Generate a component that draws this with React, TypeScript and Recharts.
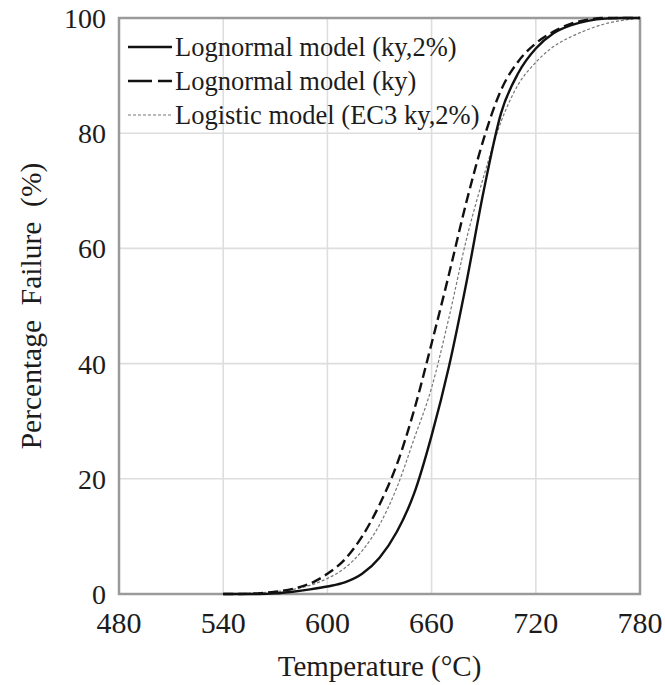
import React from 'react';
import { LineChart, Line, XAxis, YAxis, CartesianGrid, Legend, ReferenceArea } from 'recharts';

const temperatures = [540, 550, 560, 570, 580, 590, 600, 610, 620, 630, 640, 650, 660, 670, 680, 690, 700, 710, 720, 730, 740, 750, 760, 770, 780];
const lognormalKy2 = [0, 0, 0, 0.1, 0.4, 0.8, 1.3, 2, 3.5, 6.3, 10.8, 17.5, 27.5, 39.5, 54, 70, 83.5, 90.5, 94.7, 97.3, 98.7, 99.5, 99.9, 100, 100];
const lognormalKy = [0, 0, 0.1, 0.4, 0.9, 1.8, 3.5, 6, 10, 15.5, 22.5, 32, 43.5, 55.5, 68, 79, 87.5, 92.5, 95.6, 97.6, 99, 99.7, 100, 100, 100];
const logisticEC3 = [0.05, 0.1, 0.2, 0.4, 0.8, 1.5, 2.7, 4.5, 7.5, 12, 18.5, 27, 35.8, 48, 61.5, 72.5, 82, 88.5, 92.3, 95, 96.7, 98, 99, 99.6, 100];

const xTicks = [480, 540, 600, 660, 720, 780];
const yTicks = [0, 20, 40, 60, 80, 100];
const seriesNames = ['Lognormal model (ky,2%)', 'Lognormal model (ky)', 'Logistic model (EC3 ky,2%)'];
const xTitle = 'Temperature (\u00B0C)';
const yTitle = 'Percentage  Failure  (%)';

const data = temperatures.map((t, i) => ({
  t,
  a: lognormalKy2[i],
  b: lognormalKy[i],
  c: logisticEC3[i],
}));

const FONT = '"Liberation Serif", "Times New Roman", serif';
const TEXT = '#1c1c1c';

const legendItems = [
  { name: seriesNames[0], stroke: '#111', width: 2.4, dash: undefined as string | undefined },
  { name: seriesNames[1], stroke: '#111', width: 2.4, dash: '24 6' },
  { name: seriesNames[2], stroke: '#777', width: 1.2, dash: '3 2' },
];

const LegendContent = () => (
  <div style={{ fontFamily: FONT, fontSize: 26.5, color: TEXT }}>
    {legendItems.map((it) => (
      <div key={it.name} style={{ display: 'flex', alignItems: 'center', height: 34, whiteSpace: 'nowrap' }}>
        <svg width={46} height={10} style={{ marginRight: 1 }}>
          <line x1={0} y1={5} x2={44} y2={5} stroke={it.stroke} strokeWidth={it.width} strokeDasharray={it.dash} />
        </svg>
        <span>{it.name}</span>
      </div>
    ))}
  </div>
);

const YTitle = (props: any) => {
  const vb = props.viewBox || { x: 0, y: 18, width: 119, height: 576 };
  const cx = 31;
  const cy = vb.y + vb.height / 2;
  return (
    <text x={cx} y={cy} transform={`rotate(-90 ${cx} ${cy})`} textAnchor="middle" dominantBaseline="central"
      fontFamily={FONT} fontSize={29.5} fill={TEXT} style={{ whiteSpace: 'pre' }}>
      {yTitle}
    </text>
  );
};

const XTitle = (props: any) => {
  const vb = props.viewBox || { x: 119, y: 594, width: 521, height: 90 };
  const cx = vb.x + vb.width / 2;
  const y = vb.y + 82;
  return (
    <text x={cx} y={y} textAnchor="middle" fontFamily={FONT} fontSize={29} fill={TEXT}>
      {xTitle}
    </text>
  );
};

export default function App() {
  return (
    <div style={{ position: 'absolute', left: 0, top: 0 }}>
      <LineChart width={665} height={685} data={data} margin={{ top: 18, right: 25, bottom: 1, left: 0 }}>
        <CartesianGrid stroke="#dedede" strokeWidth={1.6} />
        <XAxis
          dataKey="t"
          type="number"
          domain={[480, 780]}
          ticks={xTicks}
          height={90}
          tickSize={0}
          tickMargin={18}
          axisLine={false}
          tick={{ fontFamily: FONT, fontSize: 30, fill: TEXT }}
          label={{ content: XTitle }}
          allowDataOverflow
        />
        <YAxis
          type="number"
          domain={[0, 100]}
          ticks={yTicks}
          width={119}
          tickSize={0}
          tickMargin={13}
          axisLine={false}
          tick={{ fontFamily: FONT, fontSize: 28, fill: TEXT }}
          label={{ content: YTitle }}
        />
        <ReferenceArea x1={480} x2={780} y1={0} y2={100} fill="none" stroke="#9a9a9a" strokeWidth={2.5} ifOverflow="visible" />
        <Line dataKey="c" name={seriesNames[2]} type="monotone" stroke="#777" strokeWidth={1.2} strokeDasharray="3 2" dot={false} isAnimationActive={false} />
        <Line dataKey="b" name={seriesNames[1]} type="monotone" stroke="#111" strokeWidth={2.4} strokeDasharray="10 5" dot={false} isAnimationActive={false} />
        <Line dataKey="a" name={seriesNames[0]} type="monotone" stroke="#111" strokeWidth={2.4} dot={false} isAnimationActive={false} />
        <Legend
          layout="vertical"
          align="center"
          verticalAlign="middle"
          content={LegendContent}
          wrapperStyle={{ top: 30, left: 128, width: 'auto', height: 'auto' }}
        />
      </LineChart>
    </div>
  );
}
